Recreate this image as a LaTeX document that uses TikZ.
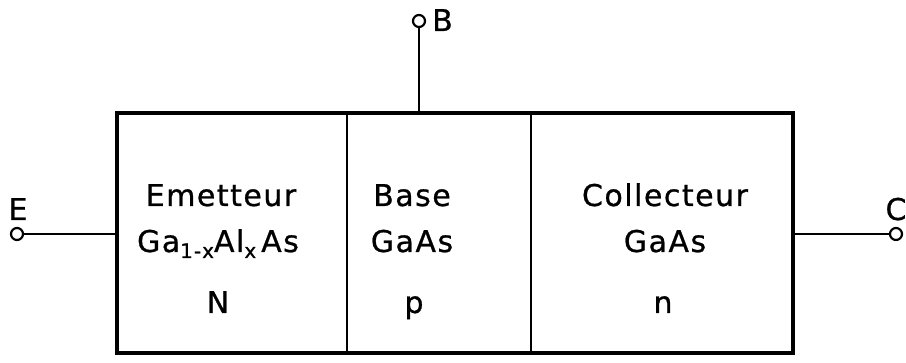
\documentclass[tikz,border=0pt]{standalone}
\usepackage{fontspec}
\setmainfont{DejaVu Sans}[LetterSpace=5, FakeBold=0.8]
\newcommand{\sbx}[1]{\raisebox{-6pt}{\fontsize{20}{20}\selectfont #1}}
\begin{document}
\begin{tikzpicture}[x=1pt,y=-1pt,
  lbl/.style={font=\fontsize{30}{32}\selectfont, inner sep=0pt, anchor=base},
  term/.style={circle, draw, line width=2.2pt, inner sep=0pt, minimum size=12pt, fill=white},
  lead/.style={line width=2.4pt}]
\useasboundingbox (0,0) rectangle (906,363);
% box
\coordinate (tl) at (117,113);
\coordinate (br) at (793,353);
\draw[line width=3.6pt] (tl) rectangle (br);
\coordinate (d1t) at (347,113); \coordinate (d1b) at (347,353);
\coordinate (d2t) at (531,113); \coordinate (d2b) at (531,353);
\draw[line width=2.4pt] (d1t) -- (d1b);
\draw[line width=2.4pt] (d2t) -- (d2b);
% terminals
\coordinate (Ein) at (117,234);
\coordinate (Cin) at (793,234);
\coordinate (Bin) at (419,113);
\node[term] (E) at (17,234) {};
\node[term] (C) at (896,234) {};
\node[term] (B) at (419,21) {};
\draw[lead] (E) -- (Ein);
\draw[lead] (C) -- (Cin);
\draw[lead] (B) -- (Bin);
\node[lbl, anchor=base west] (Blbl) at (432,31) {B};
\node[lbl] (Elbl) at (18,220) {E};
\node[lbl] (Clbl) at (896,220) {C};
% texts
\node[lbl] (e1) at (221,206) {Emetteur};
\node[lbl] (e2) at (218,252) {Ga\sbx{1-x}Al\sbx{x}\,As};
\node[lbl] (e3) at (218,313) {N};
\node[lbl] (b1) at (412,206) {Base};
\node[lbl] (b2) at (412,252) {GaAs};
\node[lbl] (b3) at (414,313) {p};
\node[lbl] (c1) at (665,206) {Collecteur};
\node[lbl] (c2) at (665,252) {GaAs};
\node[lbl] (c3) at (663,313) {n};
\end{tikzpicture}
\end{document}
